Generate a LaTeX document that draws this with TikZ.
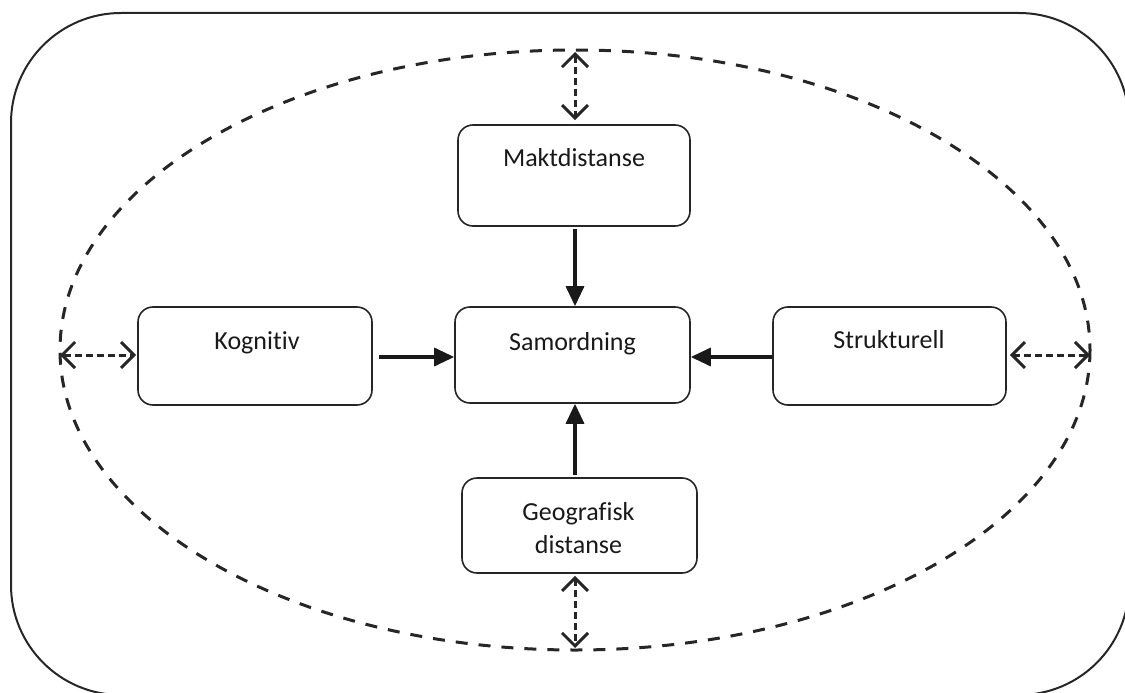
\documentclass[tikz,border=0pt]{standalone}
\usepackage{fontspec}
\setmainfont{Carlito}[Ligatures=NoCommon]
\usetikzlibrary{arrows.meta}
\begin{document}
\begin{tikzpicture}[x=1pt,y=-1pt,
  box/.style={draw=black!85,line width=1.6pt,rounded corners=15pt,fill=white,inner sep=0pt},
  txt/.style={font=\fontsize{26}{33}\selectfont,text=black!90,inner sep=0pt,anchor=base,align=center},
  solidarrow/.style={line width=3.4pt,draw=black!90,-{Triangle[length=20pt,width=18pt]}},
  dasharrow/.style={line width=3pt,draw=black!85,dash pattern=on 7pt off 4pt,
     {Straight Barb[length=13pt,width=26pt,line width=3pt]}-{Straight Barb[length=13pt,width=26pt,line width=3pt]}}]
\useasboundingbox (0,0) rectangle (1125,693);
\begin{scope}
\clip (0,0) rectangle (1125,693);
\draw[line width=2pt,draw=black!85,rounded corners=110pt] (11,13) rectangle (1129,695);
\end{scope}
\draw[line width=3pt,draw=black!85,dash pattern=on 12pt off 11pt] (575,350) ellipse [x radius=515, y radius=300];
\coordinate (etop) at (575,50);
\coordinate (ebot) at (575,650);
\coordinate (eleft) at (60,355);
\coordinate (eright) at (1090,355);
% boxes
\node[box,minimum width=232pt,minimum height=101pt] (makt) at (574,175.5) {};
\node[box,minimum width=234pt,minimum height=98pt] (kog) at (255,356) {};
\node[box,minimum width=235pt,minimum height=96pt] (sam) at (572.5,355) {};
\node[box,minimum width=233pt,minimum height=98pt] (struk) at (889.5,356) {};
\node[box,minimum width=235pt,minimum height=95pt] (geo) at (579.5,525.5) {};
% texts
\node[txt] (makt-t) at (574,166) {Maktdistanse};
\node[txt] (kog-t) at (257,349) {Kognitiv};
\node[txt] (sam-t) at (572.5,350) {Samordning};
\node[txt] (struk-t) at (889,348) {Strukturell};
\node[txt] (geo-t) at (578.5,553) {Geografisk\\distanse};
% solid arrows
\draw[solidarrow,shorten <=2pt] (makt.south -| 575,0) -- (sam.north -| 575,0);
\draw[solidarrow,shorten <=2pt] (geo.north -| 575,0) -- (sam.south -| 575,0);
\draw[solidarrow,shorten <=6pt] (kog.east |- 0,357) -- (sam.west |- 0,357);
\draw[solidarrow] (struk.west |- 0,357) -- (sam.east |- 0,357);
% dashed double arrows
\draw[dasharrow,shorten <=2pt,shorten >=4pt] (etop) -- (makt.north -| etop);
\draw[dasharrow,shorten <=2pt,shorten >=2pt] (geo.south -| ebot) -- (ebot);
\draw[dasharrow,shorten >=1pt] (eleft) -- (kog.west |- eleft);
\draw[dasharrow,shorten <=3pt] (struk.east |- eright) -- (eright);
\end{tikzpicture}
\end{document}
